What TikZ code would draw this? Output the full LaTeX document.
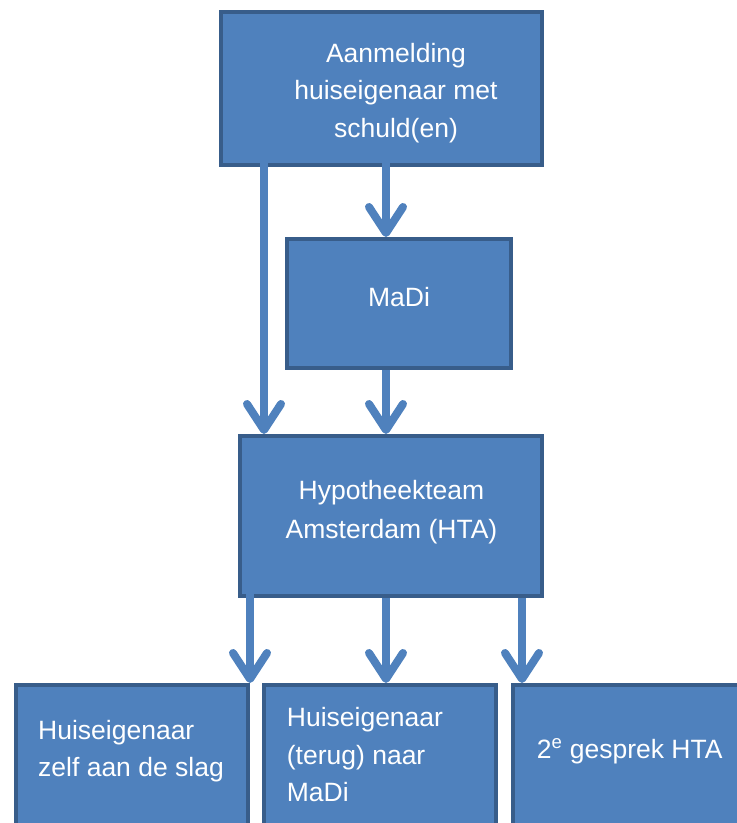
\documentclass[tikz,border=0pt]{standalone}
\usepackage{fontspec}
\setmainfont{Liberation Sans}
\usetikzlibrary{arrows.meta}
\definecolor{boxfill}{HTML}{4F81BD}
\definecolor{boxline}{HTML}{385D8A}
\begin{document}
\begin{tikzpicture}[x=1pt,y=-1pt,
  box/.style={draw=boxline, fill=boxfill, line width=4pt, inner sep=0pt, rectangle},
  txt/.style={text=white, font=\fontsize{26.5}{37.5}\selectfont, inner sep=0pt, anchor=base},
  arr/.style={draw=boxfill, line width=8pt, -{Straight Barb[length=26pt,width=34pt,round]}},
]
\useasboundingbox (0,0) rectangle (737,823);
\clip (0,0) rectangle (737,823);
% boxes
\node[box, minimum width=321pt, minimum height=153pt] (a) at (381.5,88.5) {};
\node[box, minimum width=224pt, minimum height=129pt] (madi) at (399,303.5) {};
\node[box, minimum width=302pt, minimum height=160pt] (hta) at (391,516) {};
\node[box, minimum width=232pt, minimum height=240pt] (bl) at (132,805) {};
\node[box, minimum width=232pt, minimum height=240pt] (bm) at (380,805) {};
\node[box, minimum width=237pt, minimum height=240pt] (br) at (631.5,805) {};
% texts (base anchor = baseline of the last line)
\node[txt, align=center] (ta) at (396,137) {Aanmelding\\huiseigenaar met\\schuld(en)};
\node[txt] (tm) at (399,306.7) {MaDi};
\node[txt, align=center] (th) at (391.5,538.3) {Hypotheekteam\\[1.5pt]Amsterdam (HTA)};
\node[txt, align=left, anchor=base west] (tbl) at (38,776.7) {Huiseigenaar\\zelf aan de slag};
\node[txt, align=left, anchor=base west] (tbm) at (286.7,801.7) {Huiseigenaar\\(terug) naar\\MaDi};
\node[txt, anchor=base west] (tbr) at (536.7,758) {2\textsuperscript{e} gesprek HTA};
% connectors
\coordinate (c1) at (264,143);
\coordinate (c2) at (386,143);
\coordinate (c3) at (250,585);
\coordinate (c4) at (386,0);
\coordinate (c5) at (522,0);
\draw[arr] (c1) -- (c1 |- hta.north);
\draw[arr] (c2) -- (c2 |- madi.north);
\draw[arr] (c2 |- madi.south) -- (c2 |- hta.north);
\draw[arr] (c3) -- (c3 |- bl.north);
\draw[arr] (c4 |- hta.south) -- (c4 |- bm.north);
\draw[arr] (c5 |- hta.south) -- (c5 |- br.north);
\end{tikzpicture}
\end{document}
